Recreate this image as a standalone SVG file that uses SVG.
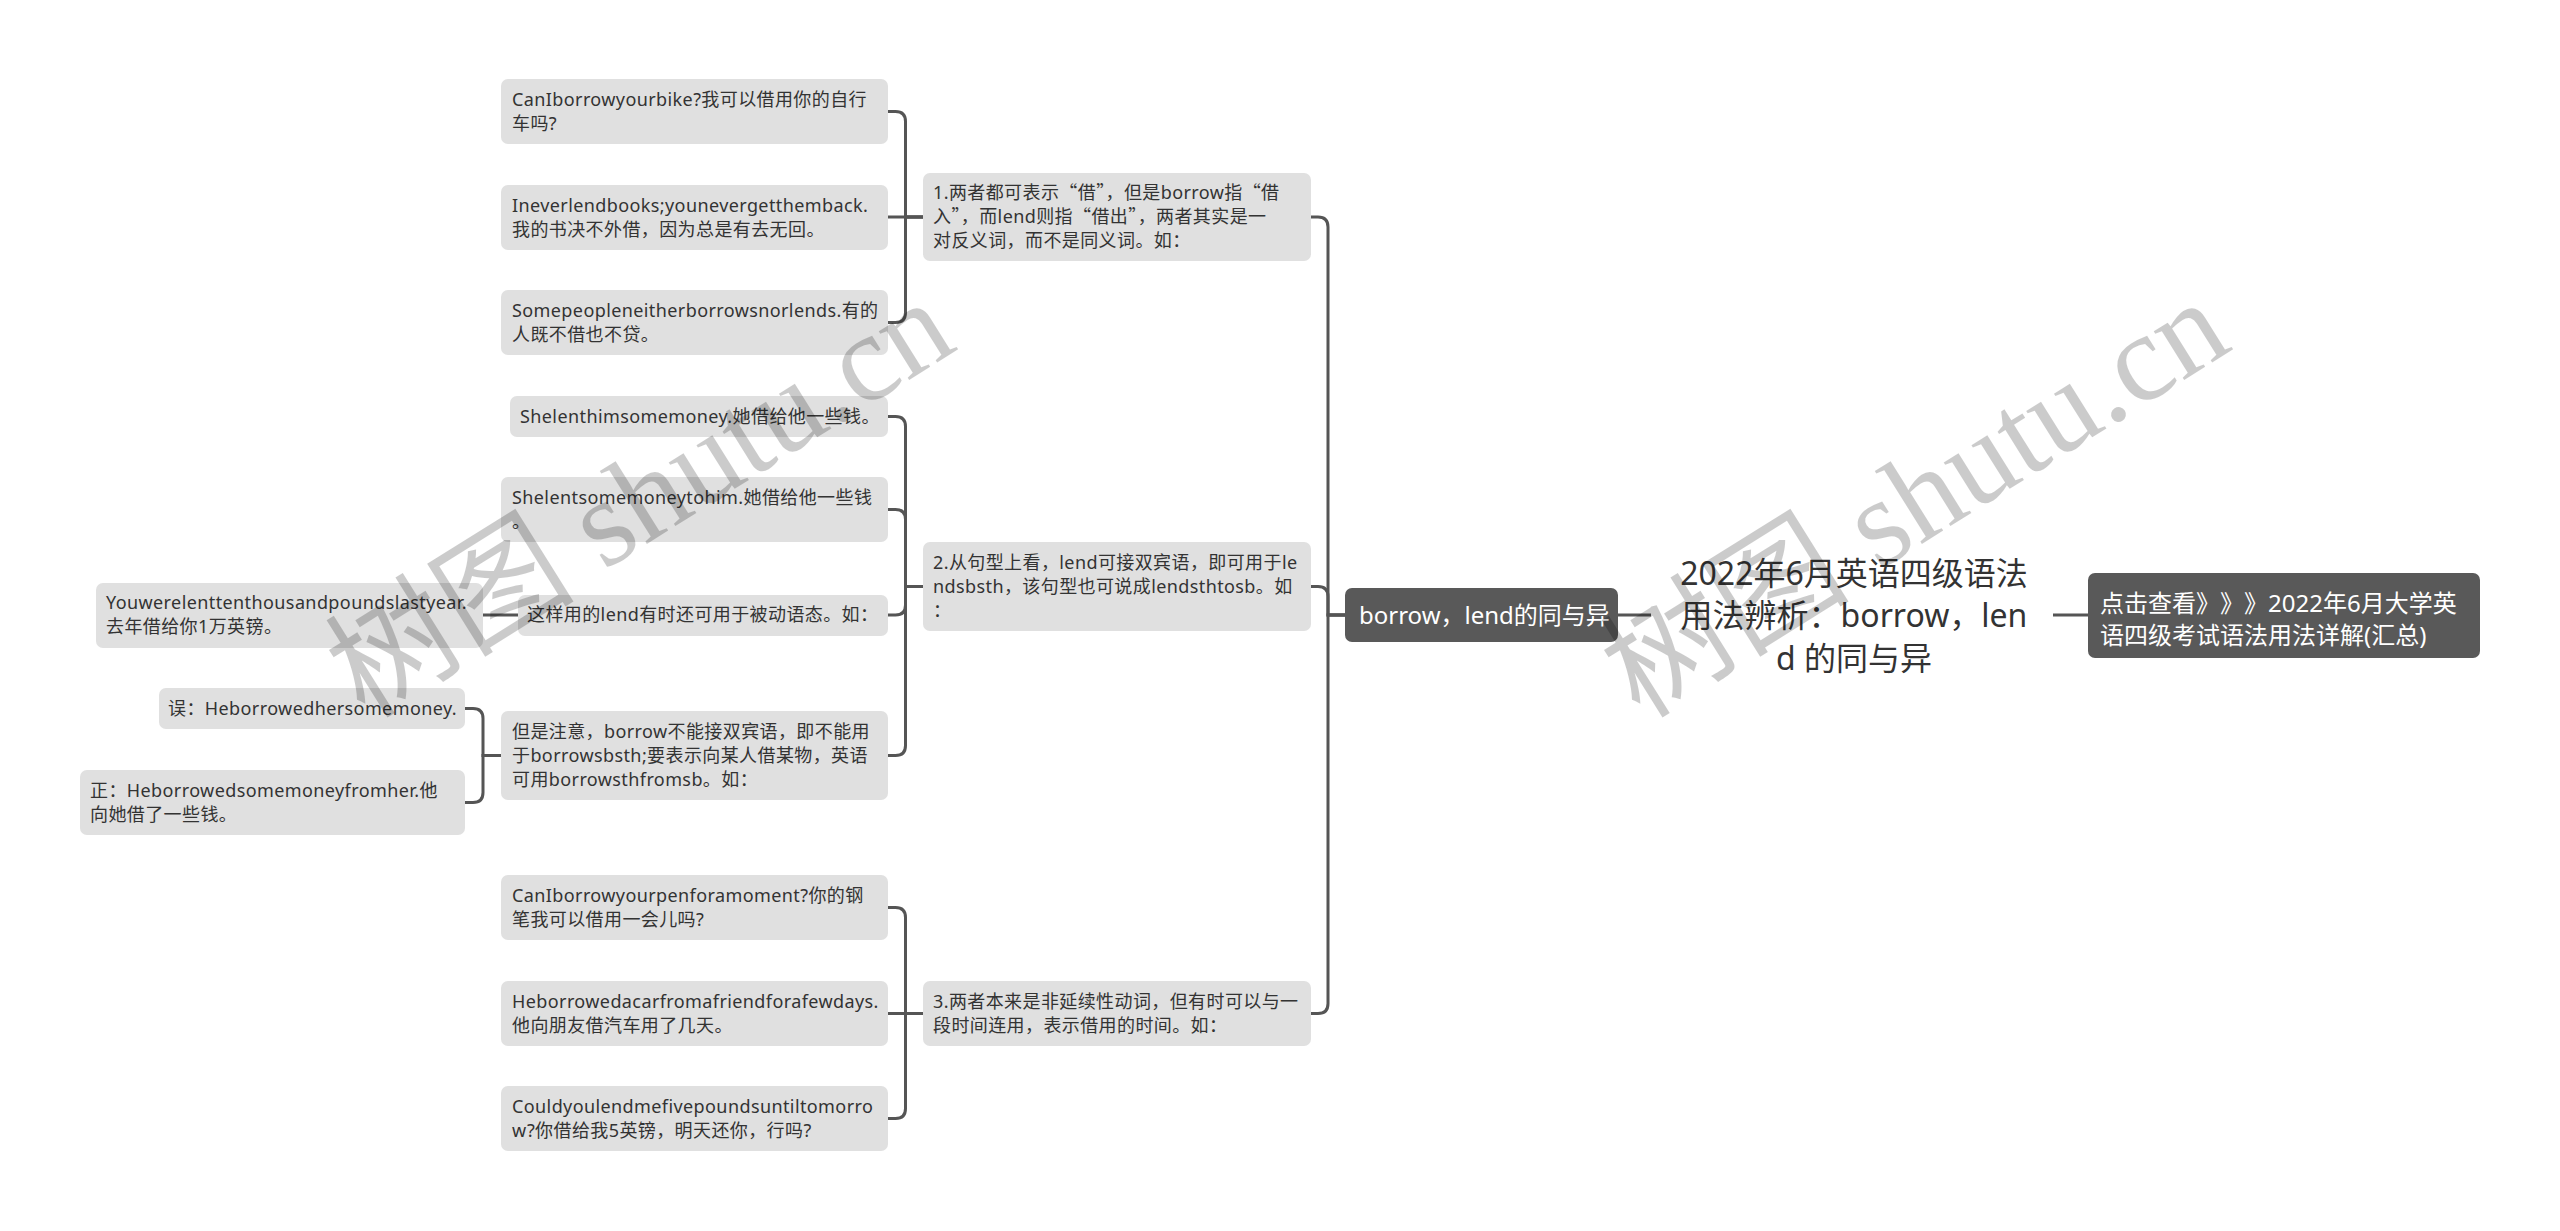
<svg xmlns="http://www.w3.org/2000/svg" width="2560" height="1231" viewBox="0 0 2560 1231">
<style>
.n{fill:#e0e0e0}
.d{fill:#595959}
.t{font-family:"Noto Sans","Noto Sans CJK SC",sans-serif;font-size:18px;fill:#333;letter-spacing:0.4px}
.tw{font-family:"Noto Sans","Noto Sans CJK SC",sans-serif;font-size:24px;fill:#fff}
.root{font-family:"Noto Sans","Noto Sans CJK SC",sans-serif;font-size:32px;fill:#333;text-anchor:middle}
.q{font-family:"Noto Sans CJK SC",sans-serif}
.sp{font-family:"Noto Sans CJK SC",sans-serif;text-spacing-trim:space-all}
.c{stroke:#555;stroke-width:3;fill:none}
.wm{font-family:"Liberation Serif","Noto Sans CJK SC",serif;font-size:125px;fill:#000;opacity:0.2}
</style>
<rect width="2560" height="1231" fill="#fff"/>
<g id="connectors">
<path class="c" d="M1618 615H1651"/>
<path class="c" d="M2053 615H2088"/>
<path class="c" d="M1345 615H1328V227Q1328 217 1318 217H1311"/>
<path class="c" d="M1345 615H1328V596.5Q1328 586.5 1318 586.5H1311"/>
<path class="c" d="M1345 615H1328V1003.5Q1328 1013.5 1318 1013.5H1311"/>
<path class="c" d="M923 217H905.5V121.5Q905.5 111.5 895.5 111.5H888"/>
<path class="c" d="M923 217H888"/>
<path class="c" d="M923 217H905.5V312.5Q905.5 322.5 895.5 322.5H888"/>
<path class="c" d="M923 586.5H905.5V426.5Q905.5 416.5 895.5 416.5H888"/>
<path class="c" d="M923 586.5H905.5V519.5Q905.5 509.5 895.5 509.5H888"/>
<path class="c" d="M923 586.5H905.5V605Q905.5 615 895.5 615H888"/>
<path class="c" d="M923 586.5H905.5V745.5Q905.5 755.5 895.5 755.5H888"/>
<path class="c" d="M518 615H483"/>
<path class="c" d="M501 755.5H483V718.5Q483 708.5 473 708.5H465"/>
<path class="c" d="M501 755.5H483V792.5Q483 802.5 473 802.5H465"/>
<path class="c" d="M923 1013.5H905.5V917.5Q905.5 907.5 895.5 907.5H888"/>
<path class="c" d="M923 1013.5H888"/>
<path class="c" d="M923 1013.5H905.5V1108.5Q905.5 1118.5 895.5 1118.5H888"/>
</g>
<g id="root">
<text class="root" x="1854" y="584.5">2022年6月英语四级语法</text>
<text class="root" x="1854" y="627">用法辨析：borrow，len</text>
<text class="root" x="1854" y="669.5">d 的同与异</text>
</g>
<g id="link">
<rect class="d" x="2088" y="573" width="392" height="85" rx="7"/>
<text class="tw" x="2100" y="611.5">点击查看<tspan class="sp">》</tspan><tspan class="sp">》</tspan><tspan class="sp">》</tspan>2022年6月大学英</text>
<text class="tw" x="2100" y="643.5">语四级考试语法用法详解(汇总)</text>
</g>
<g id="borrow-lend">
<rect class="d" x="1345" y="588" width="273" height="54" rx="7"/>
<text class="tw" x="1359" y="623.5">borrow，lend的同与异</text>
</g>
<g id="point1">
<rect class="n" x="923" y="173" width="388" height="88" rx="7"/>
<text class="t" x="933" y="199.3">1.两者都可表示<tspan class="q">“</tspan>借<tspan class="q">”</tspan>，但是borrow指<tspan class="q">“</tspan>借</text>
<text class="t" x="933" y="223.3">入<tspan class="q">”</tspan>，而lend则指<tspan class="q">“</tspan>借出<tspan class="q">”</tspan>，两者其实是一</text>
<text class="t" x="933" y="247.3">对反义词，而不是同义词。如：</text>
</g>
<g id="a1">
<rect class="n" x="501" y="79" width="387" height="65" rx="7"/>
<text class="t" x="512" y="105.8">CanIborrowyourbike?我可以借用你的自行</text>
<text class="t" x="512" y="129.8">车吗?</text>
</g>
<g id="a2">
<rect class="n" x="501" y="185" width="387" height="65" rx="7"/>
<text class="t" x="512" y="211.8">Ineverlendbooks;younevergetthemback.</text>
<text class="t" x="512" y="235.8">我的书决不外借，因为总是有去无回。</text>
</g>
<g id="a3">
<rect class="n" x="501" y="290" width="387" height="65" rx="7"/>
<text class="t" x="512" y="316.8">Somepeopleneitherborrowsnorlends.有的</text>
<text class="t" x="512" y="340.8">人既不借也不贷。</text>
</g>
<g id="point2">
<rect class="n" x="923" y="542" width="388" height="89" rx="7"/>
<text class="t" x="933" y="568.8">2.从句型上看，lend可接双宾语，即可用于le</text>
<text class="t" x="933" y="592.8">ndsbsth，该句型也可说成lendsthtosb。如</text>
<text class="t" x="933" y="616.8">：</text>
</g>
<g id="b1">
<rect class="n" x="510" y="396" width="378" height="41" rx="7"/>
<text class="t" x="520" y="422.8">Shelenthimsomemoney.她借给他一些钱。</text>
</g>
<g id="b2">
<rect class="n" x="501" y="477" width="387" height="65" rx="7"/>
<text class="t" x="512" y="503.8">Shelentsomemoneytohim.她借给他一些钱</text>
<text class="t" x="512" y="527.8">。</text>
</g>
<g id="b3">
<rect class="n" x="518" y="595" width="370" height="41" rx="7"/>
<text class="t" x="527" y="621.3">这样用的lend有时还可用于被动语态。如：</text>
</g>
<g id="b3a">
<rect class="n" x="96" y="583" width="387" height="65" rx="7"/>
<text class="t" x="106" y="609.3">Youwerelenttenthousandpoundslastyear.</text>
<text class="t" x="106" y="633.3">去年借给你1万英镑。</text>
</g>
<g id="b4">
<rect class="n" x="501" y="711" width="387" height="89" rx="7"/>
<text class="t" x="512" y="737.8">但是注意，borrow不能接双宾语，即不能用</text>
<text class="t" x="512" y="761.8">于borrowsbsth;要表示向某人借某物，英语</text>
<text class="t" x="512" y="785.8">可用borrowsthfromsb。如：</text>
</g>
<g id="b4a">
<rect class="n" x="159" y="688" width="306" height="41" rx="7"/>
<text class="t" x="168" y="714.8">误：Heborrowedhersomemoney.</text>
</g>
<g id="b4b">
<rect class="n" x="80" y="770" width="385" height="65" rx="7"/>
<text class="t" x="90" y="796.8">正：Heborrowedsomemoneyfromher.他</text>
<text class="t" x="90" y="820.8">向她借了一些钱。</text>
</g>
<g id="point3">
<rect class="n" x="923" y="981" width="388" height="65" rx="7"/>
<text class="t" x="933" y="1007.8">3.两者本来是非延续性动词，但有时可以与一</text>
<text class="t" x="933" y="1031.8">段时间连用，表示借用的时间。如：</text>
</g>
<g id="c1">
<rect class="n" x="501" y="875" width="387" height="65" rx="7"/>
<text class="t" x="512" y="901.8">CanIborrowyourpenforamoment?你的钢</text>
<text class="t" x="512" y="925.8">笔我可以借用一会儿吗?</text>
</g>
<g id="c2">
<rect class="n" x="501" y="981" width="387" height="65" rx="7"/>
<text class="t" x="512" y="1007.8">Heborrowedacarfromafriendforafewdays.</text>
<text class="t" x="512" y="1031.8">他向朋友借汽车用了几天。</text>
</g>
<g id="c3">
<rect class="n" x="501" y="1086" width="387" height="65" rx="7"/>
<text class="t" x="512" y="1112.8">Couldyoulendmefivepoundsuntiltomorro</text>
<text class="t" x="512" y="1136.8">w?你借给我5英镑，明天还你，行吗?</text>
</g>
<g id="watermarks">
<text class="wm" transform="translate(365 720) rotate(-32)">树图 shutu.cn</text>
<text class="wm" transform="translate(1640 720) rotate(-32)">树图 shutu.cn</text>
</g>
</svg>
